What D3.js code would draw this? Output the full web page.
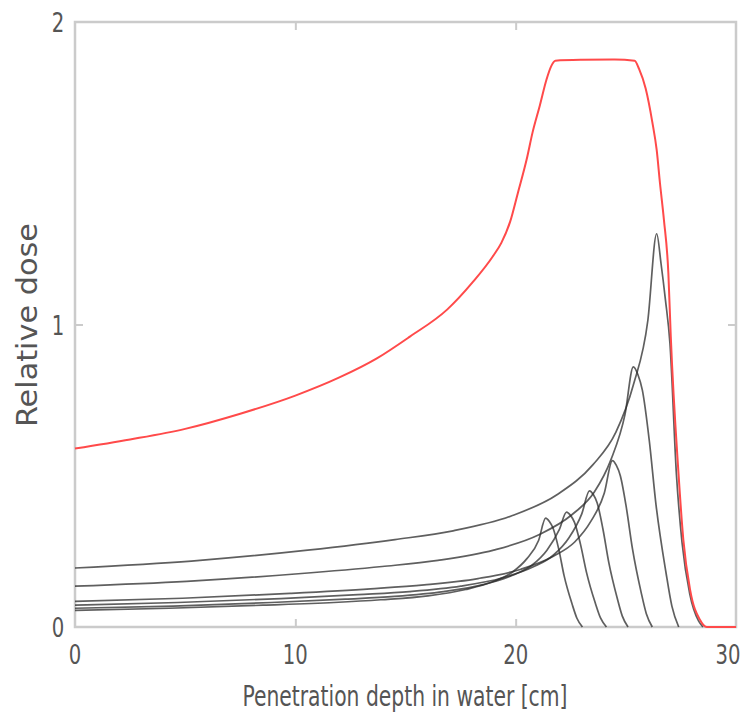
<!DOCTYPE html>
<html>
<head>
<meta charset="utf-8">
<script src="https://cdn.jsdelivr.net/npm/d3@7"></script>
<style>
  html, body { margin: 0; padding: 0; background: #fff; }
  text { font-family: "Liberation Sans Narrow", "DejaVu Sans Condensed", "Liberation Sans", sans-serif; fill: #555; }
</style>
</head>
<body>
<div id="chart"></div>
<script>
// axis setup
var xTicks = [0, 10, 20, 30];
var yTicks = [0, 1, 2];
var xLabel = "Penetration depth in water [cm]";
var yLabel = "Relative dose";

// spread-out peak (red), [depth, dose]
var sobp = [
    [0, 0.59], [2.5, 0.62], [5, 0.655], [7.5, 0.705], [10, 0.765], [12, 0.825],
    [13.7, 0.888], [15.2, 0.96], [16.9, 1.05], [18.05, 1.14], [18.96, 1.225],
    [19.35, 1.27], [19.75, 1.34], [20.1, 1.435], [20.5, 1.546], [20.77, 1.636],
    [21.1, 1.725], [21.4, 1.81], [21.62, 1.855], [21.8, 1.872], [23, 1.875],
    [24.5, 1.876], [25.4, 1.872], [25.6, 1.845], [25.9, 1.78], [26.2, 1.67],
    [26.4, 1.577], [26.55, 1.467], [26.73, 1.345], [26.93, 1.17], [27.04, 0.96],
    [27.39, 0.508], [27.61, 0.288], [27.92, 0.122], [28.37, 0.023], [28.67, 0],
    [30, 0]
];

// single Bragg peaks (black)
var peakA = [
    [0, 0.055], [4.27, 0.062], [8.54, 0.072], [11.75, 0.081], [13.88, 0.090],
    [16.02, 0.103], [17.73, 0.124], [19.01, 0.151], [19.86, 0.182], [20.51, 0.226],
    [21.04, 0.286], [21.36, 0.36], [21.53, 0.349], [21.69, 0.328], [21.95, 0.259],
    [22.2, 0.169], [22.56, 0.076], [22.78, 0.029], [23.03, 0]
];
var peakB = [
    [0, 0.062], [4.46, 0.069], [8.92, 0.081], [12.27, 0.092], [14.5, 0.101],
    [16.73, 0.117], [18.52, 0.140], [19.86, 0.171], [20.75, 0.205], [21.42, 0.254],
    [21.98, 0.322], [22.31, 0.38], [22.49, 0.369], [22.67, 0.346], [22.94, 0.274],
    [23.22, 0.179], [23.61, 0.08], [23.85, 0.03], [24.12, 0]
];
var peakC = [
    [0, 0.072], [4.67, 0.081], [9.34, 0.094], [12.84, 0.107], [15.18, 0.117],
    [17.51, 0.135], [19.38, 0.162], [20.78, 0.198], [21.72, 0.238], [22.42, 0.295],
    [23.0, 0.374], [23.35, 0.45], [23.53, 0.437], [23.7, 0.41], [23.96, 0.324],
    [24.23, 0.212], [24.61, 0.095], [24.84, 0.036], [25.1, 0]
];
var peakD = [
    [0, 0.085], [4.88, 0.095], [9.76, 0.111], [13.41, 0.126], [15.85, 0.139],
    [18.29, 0.160], [20.24, 0.191], [21.71, 0.234], [22.68, 0.281], [23.41, 0.349],
    [24.02, 0.442], [24.39, 0.55], [24.57, 0.534], [24.75, 0.50], [25.02, 0.396],
    [25.3, 0.259], [25.69, 0.116], [25.93, 0.044], [26.2, 0]
];
var peakE = [
    [0, 0.135], [5.07, 0.151], [10.14, 0.176], [13.94, 0.2], [16.47, 0.22],
    [19.0, 0.254], [21.03, 0.304], [22.55, 0.371], [23.57, 0.446], [24.33, 0.554],
    [24.96, 0.702], [25.34, 0.86], [25.55, 0.834], [25.75, 0.783], [26.06, 0.619],
    [26.37, 0.404], [26.82, 0.181], [27.09, 0.069], [27.4, 0]
];
var peakF = [
    [0, 0.195], [5.28, 0.218], [10.56, 0.254], [14.52, 0.289], [17.16, 0.318],
    [19.8, 0.367], [21.91, 0.439], [23.5, 0.536], [24.55, 0.644], [25.34, 0.8],
    [26.0, 1.014], [26.4, 1.30], [26.6, 1.2], [26.8, 1.08], [27.0, 0.94],
    [27.3, 0.5], [27.55, 0.28], [27.9, 0.11], [28.3, 0.02], [28.5, 0]
];
var singlePeaks = [peakA, peakB, peakC, peakD, peakE, peakF];

var width = 748,
    height = 715;
var margin = {
    top: 22,
    right: 12,
    bottom: 88,
    left: 75
};

var x = d3.scaleLinear()
    .domain([0, 30])
    .range([margin.left, width - margin.right]);
var y = d3.scaleLinear()
    .domain([0, 2])
    .range([height - margin.bottom, margin.top]);

var svg = d3.select('#chart').append('svg')
    .attr('width', width)
    .attr('height', height);

var line = d3.line()
    .x(function (d) { return x(d[0]); })
    .y(function (d) { return y(d[1]); })
    .curve(d3.curveMonotoneX);

// frame
svg.append('rect')
    .attr('x', x(0))
    .attr('y', y(2))
    .attr('width', x(30) - x(0))
    .attr('height', y(0) - y(2))
    .attr('fill', 'none')
    .attr('stroke', '#cbcbcb')
    .attr('stroke-width', 2.5);

// inward ticks on all four sides
var tickLen = 8;
svg.append('g')
    .call(d3.axisTop(x).tickValues(xTicks.slice(1, -1)).tickSize(tickLen).tickFormat(''))
    .attr('transform', 'translate(0,' + y(0) + ')')
    .call(function (g) { g.select('.domain').remove(); });
svg.append('g')
    .call(d3.axisBottom(x).tickValues(xTicks.slice(1, -1)).tickSize(tickLen).tickFormat(''))
    .attr('transform', 'translate(0,' + y(2) + ')')
    .call(function (g) { g.select('.domain').remove(); });
svg.append('g')
    .call(d3.axisRight(y).tickValues(yTicks.slice(1, -1)).tickSize(tickLen).tickFormat(''))
    .attr('transform', 'translate(' + x(0) + ',0)')
    .call(function (g) { g.select('.domain').remove(); });
svg.append('g')
    .call(d3.axisLeft(y).tickValues(yTicks.slice(1, -1)).tickSize(tickLen).tickFormat(''))
    .attr('transform', 'translate(' + x(30) + ',0)')
    .call(function (g) { g.select('.domain').remove(); });
svg.selectAll('.tick line')
    .attr('stroke', '#cbcbcb')
    .attr('stroke-width', 2);

// tick labels (narrow digits, like the original)
function digitWidth(d) {
    return String(d).length * 12.5;
}
svg.append('g').selectAll('text')
    .data(xTicks)
    .enter().append('text')
    .attr('x', function (d) { return d == 30 ? x(d) - 8 : x(d); })
    .attr('y', y(0) + 37)
    .attr('text-anchor', 'middle')
    .attr('textLength', digitWidth)
    .attr('lengthAdjust', 'spacingAndGlyphs')
    .style('font-size', '27px')
    .text(function (d) { return d; });
svg.append('g').selectAll('text')
    .data(yTicks)
    .enter().append('text')
    .attr('x', x(0) - 17)
    .attr('y', function (d) { return y(d) + 10; })
    .attr('text-anchor', 'middle')
    .attr('textLength', digitWidth)
    .attr('lengthAdjust', 'spacingAndGlyphs')
    .style('font-size', '27px')
    .text(function (d) { return d; });

// axis titles
svg.append('text')
    .attr('x', 405)
    .attr('y', height - 9)
    .attr('text-anchor', 'middle')
    .attr('textLength', 325)
    .attr('lengthAdjust', 'spacingAndGlyphs')
    .style('font-size', '29px')
    .text(xLabel);
svg.append('text')
    .attr('transform', 'translate(37,' + 325 + ') rotate(-90)')
    .attr('text-anchor', 'middle')
    .attr('textLength', 204)
    .attr('lengthAdjust', 'spacingAndGlyphs')
    .style('font-size', '28px')
    .text(yLabel);

// curves
svg.append('g').selectAll('path')
    .data(singlePeaks)
    .enter().append('path')
    .attr('d', line)
    .attr('fill', 'none')
    .attr('stroke', '#2a2a2a')
    .attr('stroke-opacity', 0.75)
    .attr('stroke-width', 1.7);

svg.append('path')
    .datum(sobp)
    .attr('d', line)
    .attr('fill', 'none')
    .attr('stroke', '#ff4a4a')
    .attr('stroke-width', 2);
</script>
</body>
</html>
